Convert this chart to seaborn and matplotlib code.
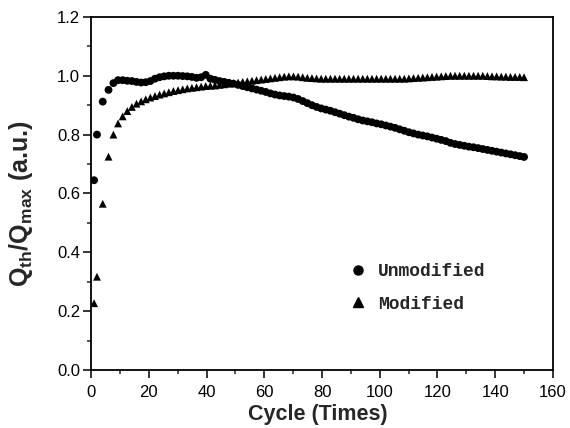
import matplotlib
matplotlib.use("Agg")
import matplotlib.pyplot as plt
import seaborn as sns
import pandas as pd
from matplotlib.ticker import MultipleLocator, FormatStrFormatter
from matplotlib.lines import Line2D

cycles = [1, 2, 4, 6, 7.7, 9.3, 10.9, 12.5, 14.1, 15.7, 17.3, 18.9, 20.5, 22.1, 23.7,
          25.3, 26.9, 28.5, 30.1, 31.7, 33.3, 34.9, 36.5, 38.1, 39.7, 41.3, 42.9, 44.5,
          46.1, 47.7, 49.3, 50.9, 52.5, 54.1, 55.7, 57.3, 58.9, 60.5, 62.1, 63.7, 65.3,
          66.9, 68.5, 70.1, 71.7, 73.3, 74.9, 76.5, 78.1, 79.7, 81.3, 82.9, 84.5, 86.1,
          87.7, 89.3, 90.9, 92.5, 94.1, 95.7, 97.3, 98.9, 100.5, 102.1, 103.7, 105.3,
          106.9, 108.5, 110.1, 111.7, 113.3, 114.9, 116.5, 118.1, 119.7, 121.3, 122.9,
          124.5, 126.1, 127.7, 129.3, 130.9, 132.5, 134.1, 135.7, 137.3, 138.9, 140.5,
          142.1, 143.7, 145.3, 146.9, 148.5, 150]

unmodified = [0.645, 0.800, 0.912, 0.952, 0.975, 0.985, 0.985, 0.983, 0.982, 0.979,
              0.977, 0.978, 0.982, 0.990, 0.995, 0.998, 1.000, 1.000, 1.000, 0.999,
              0.998, 0.996, 0.993, 0.995, 1.003, 0.990, 0.986, 0.982, 0.979, 0.976,
              0.973, 0.969, 0.965, 0.961, 0.957, 0.953, 0.949, 0.945, 0.940, 0.936,
              0.933, 0.931, 0.929, 0.926, 0.921, 0.914, 0.907, 0.900, 0.894, 0.889,
              0.885, 0.881, 0.876, 0.871, 0.866, 0.861, 0.857, 0.852, 0.848, 0.845,
              0.842, 0.838, 0.835, 0.831, 0.827, 0.823, 0.818, 0.813, 0.808, 0.804,
              0.800, 0.797, 0.794, 0.790, 0.786, 0.782, 0.778, 0.772, 0.768, 0.765,
              0.762, 0.759, 0.757, 0.754, 0.751, 0.748, 0.745, 0.742, 0.739, 0.736,
              0.733, 0.730, 0.727, 0.724]

modified = [0.227, 0.317, 0.565, 0.725, 0.800, 0.838, 0.862, 0.880, 0.894, 0.905,
            0.913, 0.920, 0.926, 0.931, 0.936, 0.940, 0.944, 0.948, 0.951, 0.954,
            0.957, 0.959, 0.961, 0.963, 0.965, 0.966, 0.967, 0.969, 0.971, 0.973,
            0.975, 0.977, 0.979, 0.981, 0.983, 0.985, 0.987, 0.989, 0.991, 0.993,
            0.995, 0.997, 0.998, 0.998, 0.997, 0.995, 0.993, 0.992, 0.991, 0.990,
            0.990, 0.990, 0.990, 0.990, 0.990, 0.990, 0.990, 0.990, 0.990, 0.990,
            0.990, 0.990, 0.990, 0.990, 0.990, 0.990, 0.990, 0.990, 0.991, 0.992,
            0.993, 0.994, 0.995, 0.996, 0.997, 0.998, 0.999, 1.000, 1.000, 1.000,
            1.000, 1.000, 1.000, 1.000, 1.000, 0.999, 0.998, 0.998, 0.997, 0.997,
            0.996, 0.996, 0.996, 0.995]

series_names = ["Unmodified", "Modified"]

df = pd.concat([
    pd.DataFrame({"Cycle": cycles, "Q": unmodified, "Sample": series_names[0]}),
    pd.DataFrame({"Cycle": cycles, "Q": modified, "Sample": series_names[1]}),
])

sns.set_style("ticks")
plt.rcParams["font.family"] = ["Liberation Sans", "DejaVu Sans"]
plt.rcParams["mathtext.fontset"] = "custom"
plt.rcParams["mathtext.rm"] = "Liberation Sans"
plt.rcParams["mathtext.bf"] = "Liberation Sans:bold"
plt.rcParams["mathtext.it"] = "Liberation Sans:italic"

fig = plt.figure(figsize=(5.7, 4.28), dpi=100)
ax = fig.add_axes([0.16, 0.1355, 0.81, 0.825])

sns.scatterplot(data=df, x="Cycle", y="Q", hue="Sample", style="Sample",
                markers={"Unmodified": "o", "Modified": "^"},
                palette={"Unmodified": "black", "Modified": "black"},
                s=32, linewidth=0, edgecolor="black", legend=False, ax=ax)

ax.set_xlim(0, 160)
ax.set_ylim(0, 1.2)
ax.xaxis.set_major_locator(MultipleLocator(20))
ax.xaxis.set_minor_locator(MultipleLocator(10))
ax.yaxis.set_major_locator(MultipleLocator(0.2))
ax.yaxis.set_minor_locator(MultipleLocator(0.1))
ax.yaxis.set_major_formatter(FormatStrFormatter("%.1f"))
ax.tick_params(which="major", direction="out", length=5.5, width=1.1, labelsize=12,
               top=False, right=False, pad=2.5, colors="black")
ax.tick_params(which="minor", direction="out", length=3, width=1.1,
               top=False, right=False)
ax.tick_params(axis="x", which="major", pad=5)
for sp in ax.spines.values():
    sp.set_linewidth(1.3)
    sp.set_color("black")
    sp.set_visible(True)

ax.set_xlabel("Cycle (Times)", fontsize=15.5, fontweight="bold")
ax.xaxis.set_label_coords(0.49, -0.095)
ax.xaxis.label.set_verticalalignment("top")
ax.set_ylabel(r"$\mathbf{Q}_{\mathbf{th}}\mathbf{/Q}_{\mathbf{max}}$ (a.u.)",
              fontsize=18, fontweight="bold")
ax.yaxis.set_label_coords(-0.122, 0.47)

handles = [Line2D([], [], linestyle="none", marker="o", color="black", markersize=6.5),
           Line2D([], [], linestyle="none", marker="^", color="black", markersize=7.5)]
ax.legend(handles, series_names, loc="center left", bbox_to_anchor=(0.524, 0.232),
          frameon=False, handlelength=1.0, handletextpad=0.6, labelspacing=0.85,
          borderpad=0.4,
          prop={"family": "Liberation Mono", "size": 13, "weight": "bold"})

fig.savefig("out.png", dpi=100)
